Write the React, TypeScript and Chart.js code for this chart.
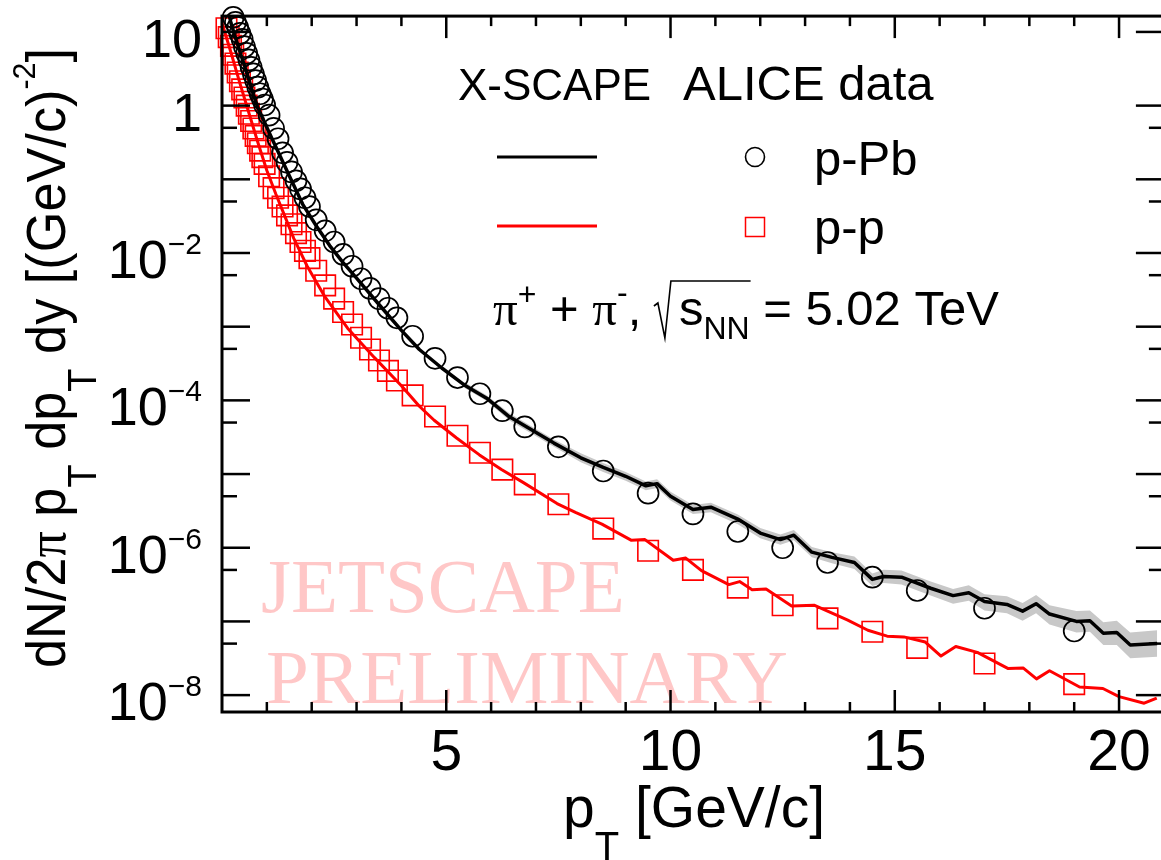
import React, { useEffect, useRef } from "react";
import { Chart, registerables } from "chart.js";

Chart.register(...registerables);

// ---------------- data ----------------
// ALICE p-Pb (open black circles)
const pPbX = [0.25, 0.3, 0.35, 0.4, 0.45, 0.5, 0.55, 0.6, 0.65, 0.7, 0.75, 0.8, 0.85, 0.9, 0.95,
  1.05, 1.15, 1.25, 1.35, 1.45, 1.55, 1.65, 1.75, 1.85, 1.95,
  2.1, 2.3, 2.5, 2.7, 2.9, 3.1, 3.3, 3.5, 3.7, 3.9,
  4.25, 4.75, 5.25, 5.75, 6.25, 6.75,
  7.5, 8.5, 9.5, 10.5, 11.5, 12.5, 13.5, 14.5, 15.5, 17, 19];
const pPbY = [15.8, 13.5, 11.5, 9.55, 7.94, 6.31, 5.13, 4.17, 3.31, 2.69, 2.19, 1.78, 1.45, 1.23, 1.02,
  0.741, 0.49, 0.355, 0.229, 0.17, 0.126, 0.0955, 0.0741, 0.0562, 0.0427,
  0.0282, 0.02, 0.0141, 9.55e-3, 6.61e-3, 4.47e-3, 3.31e-3, 2.4e-3, 1.78e-3, 1.32e-3,
  7.41e-4, 3.72e-4, 2.04e-4, 1.23e-4, 7.24e-5, 4.37e-5,
  2.34e-5, 1.1e-5, 5.5e-6, 2.88e-6, 1.66e-6, 1.0e-6, 6.31e-7, 3.98e-7, 2.63e-7, 1.51e-7, 7.41e-8];

// ALICE p-p (open red squares)
const ppX = [0.1, 0.15, 0.2, 0.25, 0.3, 0.35, 0.4, 0.45, 0.5, 0.55, 0.6, 0.65, 0.7, 0.75, 0.8, 0.85, 0.9, 0.95,
  1.05, 1.15, 1.25, 1.35, 1.45, 1.55, 1.65, 1.75, 1.85, 1.95,
  2.1, 2.3, 2.5, 2.7, 2.9, 3.1, 3.3, 3.5, 3.7, 3.9,
  4.25, 4.75, 5.25, 5.75, 6.25, 6.75,
  7.5, 8.5, 9.5, 10.5, 11.5, 12.5, 13.5, 14.5, 15.5, 17, 19];
const ppY = [11.2, 8.51, 6.46, 4.9, 3.72, 2.82, 2.14, 1.66, 1.29, 1.0, 0.776, 0.617, 0.49, 0.389, 0.309, 0.245, 0.2, 0.162,
  0.11, 0.0759, 0.0562, 0.0427, 0.0324, 0.0245, 0.0186, 0.0141, 0.0107, 8.51e-3,
  5.75e-3, 3.63e-3, 2.4e-3, 1.58e-3, 1.07e-3, 7.08e-4, 4.9e-4, 3.47e-4, 2.51e-4, 1.86e-4,
  1.17e-4, 6.03e-5, 3.31e-5, 1.95e-5, 1.15e-5, 7.24e-6,
  3.89e-6, 1.82e-6, 9.12e-7, 5.01e-7, 2.88e-7, 1.66e-7, 1.1e-7, 7.24e-8, 4.37e-8, 2.69e-8, 1.41e-8];

// X-SCAPE p-Pb model (black line)
const modelPbX = [0.1, 0.2, 0.3, 0.4, 0.5, 0.6, 0.7, 0.8, 0.9, 1.1, 1.3, 1.5, 1.8, 2.1, 2.4, 2.7, 3.0, 3.5, 4.0, 4.4, 4.9,
  5.4, 5.9, 6.4, 6.9, 7.4, 8.0, 8.5, 9.0, 9.45, 9.7, 10.0, 10.5, 10.9, 11.5, 12.0, 12.45, 12.75, 13.15, 13.6, 14.1,
  14.5, 14.75, 15.15, 15.8, 16.3, 16.65, 17.0, 17.5, 17.85, 18.15, 18.45, 19.05, 19.35, 19.65, 19.95, 20.25, 20.85];
const modelPbY = [25.1, 13.2, 8.32, 5.37, 3.47, 2.24, 1.41, 0.933, 0.692, 0.372, 0.204, 0.112, 0.0457, 0.0234, 0.0126,
  7.41e-3, 4.57e-3, 2.0e-3, 8.91e-4, 4.9e-4, 2.75e-4,
  1.62e-4, 1.07e-4, 6.03e-5, 3.98e-5, 2.63e-5, 1.66e-5, 1.23e-5, 9.33e-6, 6.92e-6, 7.41e-6, 5.01e-6, 3.31e-6, 3.55e-6,
  2.45e-6, 1.58e-6, 1.29e-6, 1.48e-6, 8.71e-7, 7.41e-7, 6.31e-7, 3.72e-7, 4.07e-7, 3.98e-7, 2.82e-7, 2.24e-7, 2.45e-7,
  1.86e-7, 1.7e-7, 1.38e-7, 1.74e-7, 1.26e-7, 1.0e-7, 1.02e-7, 6.92e-8, 7.08e-8, 4.79e-8, 5.01e-8];

// uncertainty band of the p-Pb model (grey)
const bandX = [5.4, 5.9, 6.4, 6.9, 7.4, 8.0, 8.5, 9.0, 9.45, 9.7, 10.0, 10.5, 10.9, 11.5, 12.0, 12.45, 12.75, 13.15, 13.6,
  14.1, 14.5, 14.75, 15.15, 15.8, 16.3, 16.65, 17.0, 17.5, 17.85, 18.15, 18.45, 19.05, 19.35, 19.65, 19.95, 20.25, 20.85];
const bandHigh = [1.78e-4, 1.17e-4, 6.76e-5, 4.47e-5, 2.95e-5, 1.91e-5, 1.41e-5, 1.07e-5, 7.94e-6, 8.51e-6, 5.75e-6,
  3.8e-6, 4.07e-6, 2.82e-6, 1.86e-6, 1.51e-6, 1.74e-6, 1.02e-6, 8.71e-7, 7.59e-7, 4.47e-7, 5.01e-7, 4.9e-7, 3.47e-7,
  2.75e-7, 3.09e-7, 2.34e-7, 2.19e-7, 1.78e-7, 2.29e-7, 1.66e-7, 1.38e-7, 1.41e-7, 9.77e-8, 1.02e-7, 7.08e-8, 7.59e-8];
const bandLow = [1.48e-4, 9.77e-5, 5.37e-5, 3.55e-5, 2.34e-5, 1.45e-5, 1.07e-5, 8.13e-6, 6.03e-6, 6.46e-6, 4.37e-6,
  2.88e-6, 3.02e-6, 2.09e-6, 1.35e-6, 1.1e-6, 1.26e-6, 7.41e-7, 6.17e-7, 5.13e-7, 3.02e-7, 3.31e-7, 3.16e-7, 2.24e-7,
  1.74e-7, 1.91e-7, 1.41e-7, 1.29e-7, 1.02e-7, 1.29e-7, 9.12e-8, 7.08e-8, 7.24e-8, 4.79e-8, 4.79e-8, 3.16e-8, 3.31e-8];

// X-SCAPE p-p model (red line)
const modelPpX = [0.0, 0.2, 0.4, 0.6, 0.8, 1.0, 1.2, 1.4, 1.6, 1.9, 2.3, 2.8, 3.4, 4.0, 4.4, 4.73, 5.23, 5.74, 6.23, 6.73,
  7.47, 7.88, 8.47, 9.13, 9.43, 10.06, 10.34, 10.69, 11.3, 11.54, 11.82, 12.13, 12.7, 13.2, 13.94, 14.4, 14.83, 15.2,
  15.68, 16.03, 16.36, 16.84, 17.53, 17.86, 18.16, 18.45, 19.12, 19.64, 20.0, 20.56, 20.84];
const modelPpY = [13.2, 5.25, 2.0, 0.794, 0.316, 0.132, 0.0631, 0.0316, 0.0158, 6.61e-3, 2.51e-3, 9.55e-4, 3.8e-4,
  1.58e-4, 8.32e-5, 5.37e-5, 3.09e-5, 1.82e-5, 1.15e-5, 7.59e-6, 3.98e-6, 3.02e-6, 2.09e-6, 1.26e-6, 1.29e-6, 6.76e-7,
  7.24e-7, 4.9e-7, 3.16e-7, 3.47e-7, 2.69e-7, 2.75e-7, 1.62e-7, 1.66e-7, 1.05e-7, 7.59e-8, 6.31e-8, 6.17e-8, 5.25e-8,
  3.39e-8, 4.57e-8, 3.8e-8, 2.29e-8, 2.34e-8, 1.66e-8, 2.14e-8, 1.29e-8, 1.23e-8, 9.55e-9, 7.76e-9, 9.12e-9];

// axis ticks and labels
const xTickValues = [5, 10, 15, 20];
const xTickLabels = ["5", "10", "15", "20"];
const yMajorTicks = [1e1, 1, 1e-1, 1e-2, 1e-3, 1e-4, 1e-5, 1e-6, 1e-7, 1e-8];
const yMinorTicks = [0.5, 5e-2, 5e-3, 5e-4, 5e-5, 5e-6, 5e-7, 5e-8];
const yLabelValues = [10, 1, 1e-2, 1e-4, 1e-6, 1e-8];
const yLabelBase = ["10", "1", "10", "10", "10", "10"];
const yLabelExp = ["", "", "\u22122", "\u22124", "\u22126", "\u22128"];

const X_MIN = 0;
const X_MAX = 21;
const Y_MIN = 5.9e-9;
const Y_MAX = 16.4;

const SANS = '"Liberation Sans", Arial, Helvetica, sans-serif';
const SERIF = '"Liberation Serif", "Times New Roman", serif';

type Seg = { t: string; size: number; dy?: number; serif?: boolean };

function segFont(s: Seg) {
  return `${s.size}px ${s.serif ? SERIF : SANS}`;
}
function richWidth(ctx: CanvasRenderingContext2D, segs: Seg[]) {
  let w = 0;
  for (const s of segs) {
    ctx.font = segFont(s);
    w += ctx.measureText(s.t).width;
  }
  return w;
}
function drawRich(ctx: CanvasRenderingContext2D, segs: Seg[], x: number, y: number) {
  let cx = x;
  for (const s of segs) {
    ctx.font = segFont(s);
    ctx.fillText(s.t, cx, y + (s.dy || 0));
    cx += ctx.measureText(s.t).width;
  }
  return cx;
}

const pts = (xs: number[], ys: number[]) => xs.map((x, i) => ({ x, y: ys[i] }));

const rootStyle = {
  id: "rootStyle",
  beforeDraw(chart: any) {
    const ctx = chart.ctx as CanvasRenderingContext2D;
    ctx.save();
    ctx.fillStyle = "#ffffff";
    ctx.fillRect(0, 0, chart.width, chart.height);
    ctx.restore();
  },
  beforeDatasetsDraw(chart: any) {
    const ctx = chart.ctx as CanvasRenderingContext2D;
    ctx.save();
    ctx.fillStyle = "rgba(255,0,0,0.22)";
    ctx.font = `77px ${SERIF}`;
    ctx.textAlign = "left";
    ctx.textBaseline = "alphabetic";
    ctx.fillText("JETSCAPE", 261, 612);
    ctx.fillText("PRELIMINARY", 266, 703);
    ctx.restore();
  },
  afterDraw(chart: any) {
    const ctx = chart.ctx as CanvasRenderingContext2D;
    const xs = chart.scales.x;
    const ys = chart.scales.y;
    const { left, right, top, bottom } = chart.chartArea;
    const line = (x1: number, y1: number, x2: number, y2: number) => {
      ctx.beginPath();
      ctx.moveTo(x1, y1);
      ctx.lineTo(x2, y2);
      ctx.stroke();
    };
    ctx.save();
    ctx.strokeStyle = "#000";
    ctx.fillStyle = "#000";
    ctx.lineCap = "butt";

    // ticks
    ctx.lineWidth = 2.5;
    for (let v = 1; v < X_MAX; v++) {
      const px = xs.getPixelForValue(v);
      const len = v % 5 === 0 ? 22 : 10;
      line(px, bottom, px, bottom - len);
      line(px, top, px, top + len);
    }
    for (const v of yMajorTicks) {
      const py = ys.getPixelForValue(v);
      line(left, py, left + 28, py);
      line(right, py, right - 28, py);
    }
    for (const v of yMinorTicks) {
      const py = ys.getPixelForValue(v);
      line(left, py, left + 15, py);
      line(right, py, right - 15, py);
    }
    // frame
    ctx.lineWidth = 3;
    ctx.strokeRect(left, top, right - left, bottom - top);

    // x tick labels
    ctx.textBaseline = "alphabetic";
    ctx.textAlign = "center";
    ctx.font = `57px ${SANS}`;
    xTickValues.forEach((v, i) => {
      ctx.fillText(xTickLabels[i], xs.getPixelForValue(v), 770);
    });

    // y tick labels
    ctx.textAlign = "left";
    const labRight = 202;
    yLabelValues.forEach((v, i) => {
      const py = ys.getPixelForValue(v) + 25;
      const base = yLabelBase[i];
      const exp = yLabelExp[i];
      ctx.font = `30px ${SANS}`;
      const ew = exp ? ctx.measureText(exp).width : 0;
      ctx.font = `54px ${SANS}`;
      const bw = ctx.measureText(base).width;
      ctx.fillText(base, labRight - ew - bw, py);
      if (exp) {
        ctx.font = `30px ${SANS}`;
        ctx.fillText(exp, labRight - ew, py - 24);
      }
    });

    // x title
    drawRich(ctx, [
      { t: "p", size: 57 },
      { t: "T", size: 40, dy: 33 },
      { t: " [GeV/c]", size: 57 },
    ], 563, 827);

    // y title (rotated)
    const ySegs: Seg[] = [
      { t: "dN/2", size: 55 },
      { t: "\u03c0", size: 55, serif: true },
      { t: " p", size: 55 },
      { t: "T", size: 40, dy: 31 },
      { t: " dp", size: 55 },
      { t: "T", size: 40, dy: 31 },
      { t: " dy [(GeV/c)", size: 55 },
      { t: "-2", size: 32, dy: -30 },
      { t: "]", size: 55 },
    ];
    const yw = richWidth(ctx, ySegs);
    ctx.save();
    ctx.translate(65, 358);
    ctx.rotate(-Math.PI / 2);
    ctx.scale(620 / yw, 1);
    drawRich(ctx, ySegs, -yw / 2, 0);
    ctx.restore();

    // legend
    ctx.font = `44px ${SANS}`;
    ctx.fillText("X-SCAPE", 458, 100);
    ctx.font = `49px ${SANS}`;
    ctx.fillText("ALICE data", 683, 100);
    ctx.fillText("p-Pb", 814, 175);
    ctx.fillText("p-p", 814, 244);
    ctx.lineWidth = 3;
    ctx.strokeStyle = "#000";
    line(497, 157, 597, 157);
    ctx.strokeStyle = "#ff0000";
    line(497, 226, 597, 226);
    ctx.lineWidth = 1.6;
    ctx.strokeStyle = "#000";
    ctx.beginPath();
    ctx.arc(755, 157, 9.5, 0, Math.PI * 2);
    ctx.stroke();
    ctx.strokeStyle = "#ff0000";
    ctx.lineWidth = 1.5;
    ctx.strokeRect(745.5, 217.5, 19, 19);

    // annotation: pi+ + pi-, sqrt(s_NN) = 5.02 TeV
    ctx.strokeStyle = "#000";
    const cx = drawRich(ctx, [
      { t: "\u03c0", size: 49, serif: true },
      { t: "+", size: 32, dy: -20 },
      { t: " + ", size: 49 },
      { t: "\u03c0", size: 49, serif: true },
      { t: "-", size: 32, dy: -22 },
      { t: ", ", size: 49 },
    ], 493, 325);
    const sq0 = cx;
    const sEnd = drawRich(ctx, [
      { t: "s", size: 49 },
      { t: "NN", size: 32, dy: 14 },
    ], sq0 + 24, 325);
    ctx.lineWidth = 1.6;
    ctx.beginPath();
    ctx.moveTo(sq0 - 1, 306);
    ctx.lineTo(sq0 + 3, 303);
    ctx.lineTo(sq0 + 10, 338);
    ctx.lineTo(sq0 + 16, 281);
    ctx.lineTo(sEnd + 1, 281);
    ctx.stroke();
    drawRich(ctx, [{ t: " = 5.02 TeV", size: 49 }], sEnd, 325);

    ctx.restore();
  },
};

export default function App() {
  const ref = useRef<HTMLCanvasElement | null>(null);

  useEffect(() => {
    const canvas = ref.current;
    if (!canvas) return;
    const chart = new Chart(canvas, {
      type: "line",
      data: {
        datasets: [
          {
            label: "band high",
            data: pts(bandX, bandHigh),
            borderWidth: 0,
            borderColor: "rgba(0,0,0,0)",
            backgroundColor: "#c8c8c8",
            pointRadius: 0,
            fill: "+1",
            order: 10,
          },
          {
            label: "band low",
            data: pts(bandX, bandLow),
            borderWidth: 0,
            borderColor: "rgba(0,0,0,0)",
            pointRadius: 0,
            fill: false,
            order: 10,
          },
          {
            label: "ALICE p-Pb",
            data: pts(pPbX, pPbY),
            showLine: false,
            pointStyle: "circle",
            pointRadius: 10.5,
            pointBorderWidth: 1.7,
            pointBorderColor: "#000",
            pointBackgroundColor: "rgba(0,0,0,0)",
            clip: false,
            order: 5,
          },
          {
            label: "ALICE p-p",
            data: pts(ppX, ppY),
            showLine: false,
            pointStyle: "rect",
            pointRadius: 14.5,
            pointBorderWidth: 1.6,
            pointBorderColor: "#ff0000",
            pointBackgroundColor: "rgba(0,0,0,0)",
            clip: false,
            order: 5,
          },
          {
            label: "X-SCAPE p-Pb",
            data: pts(modelPbX, modelPbY),
            borderColor: "#000",
            borderWidth: 3.5,
            pointRadius: 0,
            tension: 0,
            fill: false,
            borderJoinStyle: "round",
            order: 1,
          },
          {
            label: "X-SCAPE p-p",
            data: pts(modelPpX, modelPpY),
            borderColor: "#ff0000",
            borderWidth: 3,
            pointRadius: 0,
            tension: 0,
            fill: false,
            borderJoinStyle: "round",
            order: 1,
          },
        ],
      },
      options: {
        responsive: false,
        animation: false,
        events: [],
        layout: { padding: { left: 222, right: 12, top: 8, bottom: 148 } },
        plugins: {
          legend: { display: false },
          tooltip: { enabled: false },
        },
        scales: {
          x: { type: "linear", min: X_MIN, max: X_MAX, display: false },
          y: { type: "logarithmic", min: Y_MIN, max: Y_MAX, display: false },
        },
      } as any,
      plugins: [rootStyle as any],
    });
    return () => chart.destroy();
  }, []);

  return (
    <div
      style={{
        position: "fixed",
        left: 0,
        top: 0,
        width: 1161,
        height: 860,
        overflow: "hidden",
        background: "#ffffff",
      }}
    >
      <canvas ref={ref} width={1180} height={860} style={{ display: "block" }} />
    </div>
  );
}
